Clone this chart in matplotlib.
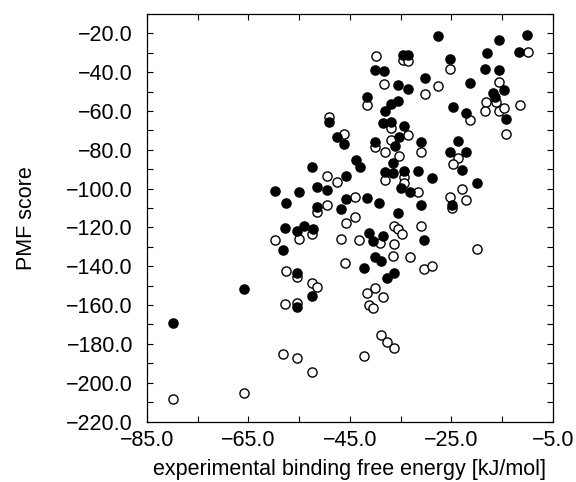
import matplotlib
matplotlib.use('Agg')
import matplotlib.pyplot as plt
from matplotlib.ticker import FuncFormatter

plt.rcParams['font.family'] = ['Liberation Sans', 'DejaVu Sans']

# filled circles
filled_x = [-27.6, -15.6, -10.2, -11.6, -18.0, -25.2, -34.6, -33.6, -40.0, -38.2,
            -35.5, -33.6, -30.3, -21.3, -18.4, -15.6, -14.6, -16.8, -16.4, -14.3,
            -24.6, -22.2, -41.6, -35.5, -37.0, -38.0, -38.5, -37.0, -34.3, -49.1,
            -47.6, -46.2, -35.4, -40.0, -36.2, -31.0, -23.7, -25.2, -22.2, -23.0,
            -20.0, -24.8, -43.8, -43.0, -52.4, -45.8, -36.6, -38.0, -36.5, -34.3,
            -31.5, -28.8, -35.0, -33.2, -59.8, -55.0, -51.4, -49.5, -57.6, -51.4,
            -46.8, -45.7, -41.6, -39.2, -31.0, -35.5, -57.8, -55.5, -54.1, -52.2,
            -58.1, -41.3, -40.4, -38.5, -30.4, -40.1, -38.8, -42.2, -37.6, -36.3,
            -55.4, -65.8, -52.4, -55.4, -79.8]
filled_y = [-21.3, -23.4, -21.0, -29.8, -30.3, -33.0, -31.1, -31.1, -39.0, -39.4,
            -46.6, -48.5, -42.8, -45.7, -38.4, -39.0, -49.2, -50.9, -52.9, -64.0,
            -57.8, -60.9, -52.6, -54.7, -56.4, -60.0, -66.3, -65.7, -67.7, -65.8,
            -73.2, -77.2, -73.2, -76.1, -78.0, -76.1, -75.3, -81.0, -81.0, -90.4,
            -97.3, -108.5, -85.3, -89.0, -88.7, -93.5, -87.0, -91.3, -91.8, -90.8,
            -90.8, -94.7, -99.8, -101.6, -101.2, -101.6, -99.0, -100.7, -107.6, -109.6,
            -110.7, -105.5, -105.0, -107.3, -108.5, -112.8, -120.2, -121.7, -119.3, -120.8,
            -131.6, -123.0, -127.0, -124.3, -126.5, -135.1, -137.3, -140.8, -145.9, -143.4,
            -143.4, -151.6, -155.2, -161.2, -169.1]

# open circles
open_x = [-10.0, -34.6, -33.6, -39.9, -38.2, -25.2, -30.3, -27.6, -15.6, -18.1,
          -16.2, -18.4, -15.6, -14.6, -11.5, -14.3, -21.3, -41.6, -37.0, -49.1,
          -46.2, -33.6, -37.0, -40.0, -38.0, -35.4, -31.0, -23.7, -24.6, -23.0,
          -22.1, -25.2, -24.8, -20.0, -49.6, -47.6, -38.0, -34.3, -34.3, -31.5,
          -51.4, -49.5, -44.0, -45.7, -44.0, -55.0, -52.4, -59.8, -46.8, -43.2,
          -39.1, -36.3, -35.6, -34.8, -31.0, -36.3, -36.6, -33.2, -45.9, -30.4,
          -28.8, -57.5, -55.4, -52.4, -51.4, -41.7, -40.0, -38.5, -57.8, -55.4,
          -41.3, -40.4, -38.8, -37.6, -36.3, -58.1, -55.4, -52.4, -42.2, -65.8,
          -79.8]
open_y = [-29.8, -33.7, -34.0, -31.6, -46.2, -38.5, -51.4, -47.1, -44.9, -55.5,
          -55.2, -59.8, -59.8, -58.6, -56.9, -72.0, -64.6, -57.1, -68.6, -63.3,
          -72.0, -72.4, -75.0, -78.4, -81.0, -83.0, -81.0, -84.4, -87.3, -100.2,
          -105.9, -104.2, -110.0, -131.1, -93.3, -96.4, -95.6, -93.9, -97.0, -101.9,
          -111.9, -108.5, -104.5, -117.6, -114.5, -126.0, -123.6, -126.5, -126.0, -126.5,
          -128.2, -119.1, -120.8, -123.6, -119.1, -128.7, -134.7, -135.1, -138.5, -141.4,
          -139.9, -142.3, -145.7, -148.8, -150.9, -154.0, -151.4, -156.0, -159.5, -159.0,
          -160.0, -161.7, -175.5, -178.9, -182.3, -185.3, -187.2, -194.7, -186.3, -205.5,
          -208.6]

x_major = [-85, -65, -45, -25, -5]
x_minor = [-75, -55, -35, -15]
y_major = list(range(-220, -19, 20))
y_minor = list(range(-210, -9, 20))

fig = plt.figure(figsize=(5.76, 4.82), dpi=100)
ax = fig.add_axes([0.255, 0.1255, 0.705, 0.8455])

ax.plot(open_x, open_y, 'o', markersize=6.6, markerfacecolor='white',
        markeredgecolor='black', markeredgewidth=1.0, linestyle='none')
ax.plot(filled_x, filled_y, 'o', markersize=6.6, markerfacecolor='black',
        markeredgecolor='black', markeredgewidth=1.0, linestyle='none')

ax.set_xlim(-85, -5)
ax.set_ylim(-220, -10)
ax.set_xticks(x_major)
ax.set_xticks(x_minor, minor=True)
ax.set_yticks(y_major)
ax.set_yticks(y_minor, minor=True)

fmt = FuncFormatter(lambda v, pos: ('%.1f' % v).replace('-', '\u2212'))
ax.xaxis.set_major_formatter(fmt)
ax.yaxis.set_major_formatter(fmt)
ax.tick_params(which='both', direction='in', top=True, right=True,
               length=4, width=0.8, labelsize=15.5)
ax.tick_params(axis='x', pad=6)
ax.tick_params(axis='y', pad=10)
for s in ax.spines.values():
    s.set_linewidth(0.9)

ax.set_xlabel('experimental binding free energy [kJ/mol]', fontsize=15.5)
ax.set_ylabel('PMF score', fontsize=15.5)
ax.xaxis.set_label_coords(0.5, -0.093)
ax.yaxis.set_label_coords(-0.27, 0.5)

fig.savefig('out.png', dpi=100)
